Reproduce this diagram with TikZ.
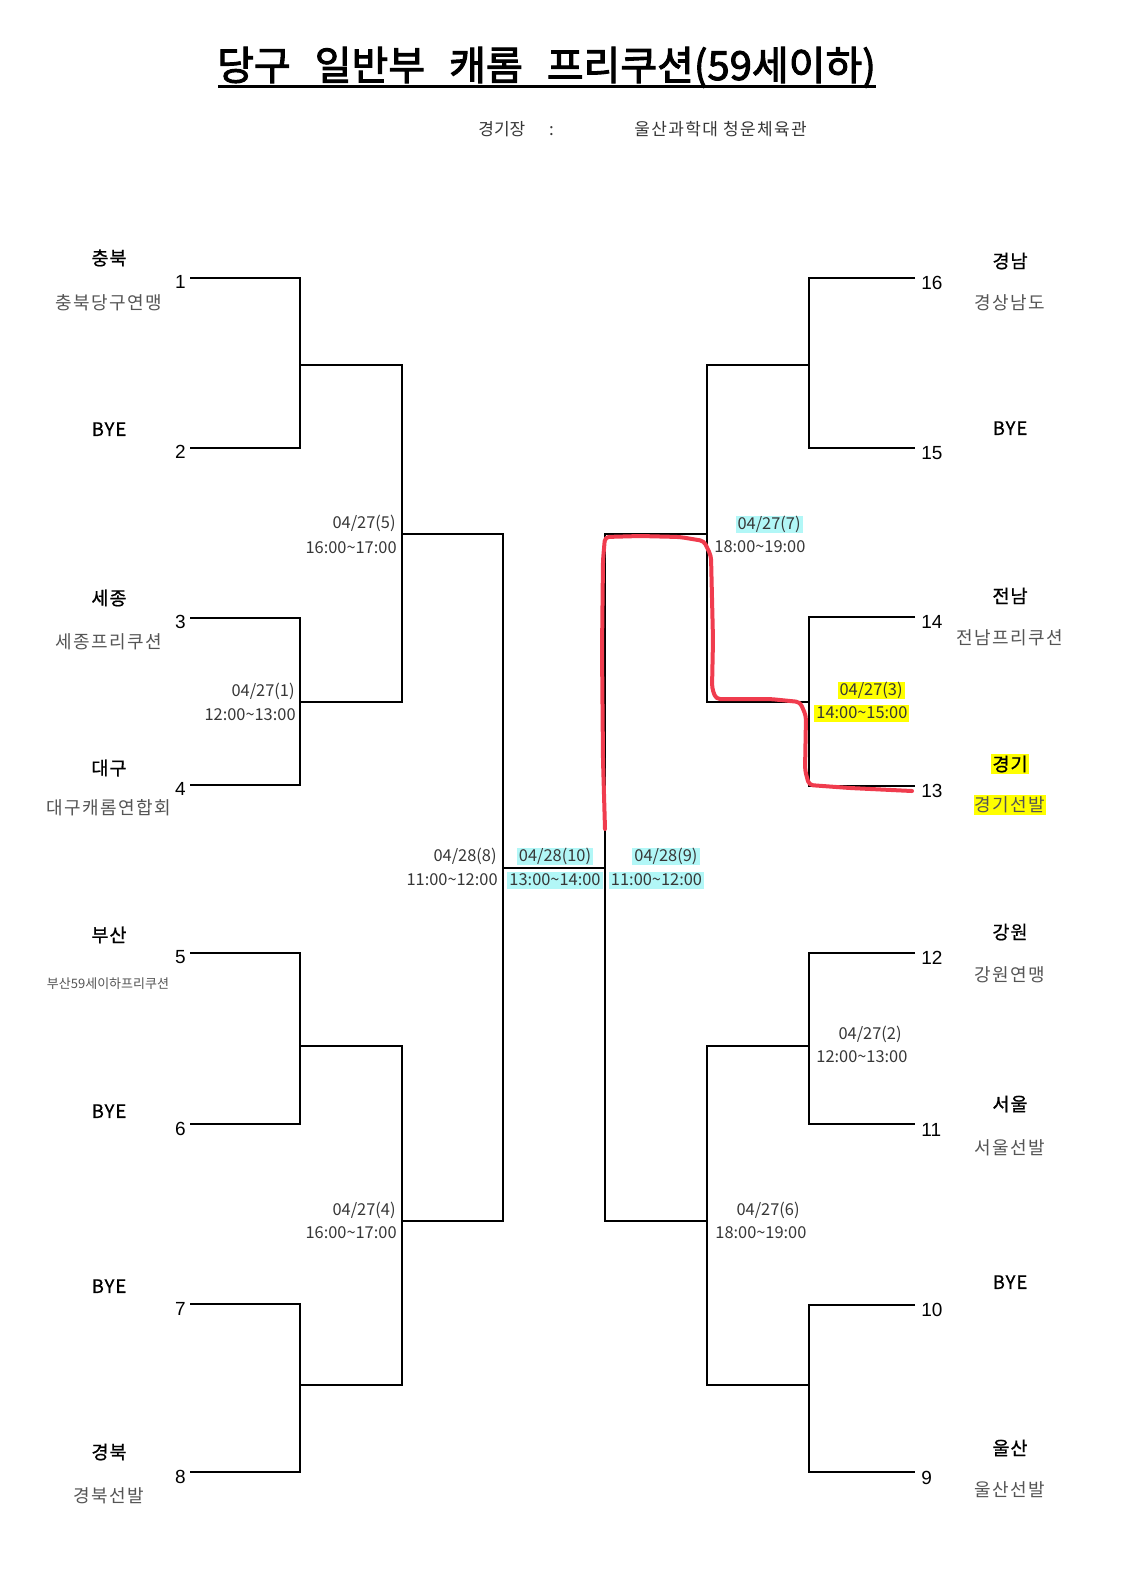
\documentclass[tikz,border=0pt]{standalone}
\usepackage{fontspec}
\newfontfamily\kr{Noto Sans CJK KR}
\newfontfamily\krs{Noto Sans CJK KR}[LetterSpace=8]
\newfontfamily\krb{Noto Sans CJK KR}[FakeBold=0.8,LetterSpace=5]
\newfontfamily\krtb{Noto Sans CJK KR}[FakeBold=2.5]
\newfontfamily\numf{Liberation Sans}
\usetikzlibrary{calc}
\definecolor{hcy}{RGB}{178,247,247}
\definecolor{hye}{RGB}{255,255,0}
\definecolor{redpen}{RGB}{240,60,78}
\definecolor{clubgray}{RGB}{85,85,85}
\definecolor{dategray}{RGB}{55,55,55}
\begin{document}
\begin{tikzpicture}[x=0.5pt,y=-0.5pt,
  br/.style={line width=1pt},
  reg/.style={font=\krb\fontsize{9.3pt}{10pt}\selectfont, inner sep=0pt, text height=7.4pt, text depth=0.45pt},
  club/.style={font=\krs\fontsize{9pt}{10pt}\selectfont, text=clubgray, inner sep=0pt, text height=7.2pt, text depth=0.45pt},
  numl/.style={font=\numf\fontsize{9.5pt}{10pt}\selectfont, inner sep=0pt, text height=6.8pt, text depth=0pt, anchor=east},
  numr/.style={numl, anchor=west},
  dt/.style={font=\kr\fontsize{8.2pt}{9pt}\selectfont, text=dategray, inner xsep=1pt, inner ysep=0pt, text height=6.9pt, text depth=1.6pt},
  hc/.style={dt, fill=hcy},
  hy/.style={dt, fill=hye},
  venue/.style={font=\krs\fontsize{8.5pt}{9pt}\selectfont, text=dategray, inner sep=0pt, anchor=west},
  redmark/.style={draw=redpen, line width=2pt, line cap=round, line join=round, rounded corners=2pt}
]
\fill[white] (0,0) rectangle (1120,1585);
\path[use as bounding box] (0,0) rectangle (1120,1585);

% title
\node[font=\krtb\fontsize{20pt}{23pt}\selectfont, inner sep=0pt, anchor=base] (title) at (546.5,80)
  {당구\hspace{0.6em}일반부\hspace{0.6em}캐롬\hspace{0.6em}프리쿠션(59세이하)};
\coordinate (ulA) at (218,86);
\coordinate (ulB) at (876,86);
\draw[line width=1.5pt] (ulA) -- (ulB);
\node[venue, font=\kr\fontsize{8.5pt}{9pt}\selectfont] (vlab) at (478,129) {경기장\hspace{1.4em}:};
\node[venue] (vname) at (634,129) {울산과학대 청운체육관};

% left entry points
\coordinate (p1) at (190,277.7);
\coordinate (p2) at (190,447.7);
\coordinate (p3) at (190,617.7);
\coordinate (p4) at (190,785);
\coordinate (p5) at (190,952.7);
\coordinate (p6) at (190,1124.3);
\coordinate (p7) at (190,1304.3);
\coordinate (p8) at (190,1472.3);
\coordinate (j12) at (300,365);
\coordinate (j34) at (300,701.7);
\coordinate (j56) at (300,1045.7);
\coordinate (j78) at (300,1385);
\coordinate (k1) at (402,534.3);
\coordinate (k2) at (402,1220.7);
\coordinate (m) at (503,868);
\coordinate (n) at (605,868);
% right entry points
\coordinate (q16) at (915,277.7);
\coordinate (q15) at (915,447.7);
\coordinate (q14) at (915,617);
\coordinate (q13) at (915,785.7);
\coordinate (q12) at (915,952.7);
\coordinate (q11) at (915,1124.3);
\coordinate (q10) at (915,1305);
\coordinate (q9) at (915,1472.3);
\coordinate (r1) at (809,365);
\coordinate (r2) at (809,701.7);
\coordinate (r3) at (809,1045.7);
\coordinate (r4) at (809,1385);
\coordinate (s1) at (707,534.3);
\coordinate (s2) at (707,1220.7);

% bracket lines
\draw[br] (p1) -| (j12) |- (p2);
\draw[br] (p3) -| (j34) |- (p4);
\draw[br] (p5) -| (j56) |- (p6);
\draw[br] (p7) -| (j78) |- (p8);
\draw[br] (j12) -| (k1) |- (j34);
\draw[br] (j56) -| (k2) |- (j78);
\draw[br] (k1) -| (m) |- (k2);
\draw[br] (m) -- (n);
\draw[br] (s1) -| (n) |- (s2);
\draw[br] (r1) -| (s1) |- (r2);
\draw[br] (r3) -| (s2) |- (r4);
\draw[br] (q16) -| (r1) |- (q15);
\draw[br] (q14) -| (r2) |- (q13);
\draw[br] (q12) -| (r3) |- (q11);
\draw[br] (q10) -| (r4) |- (q9);

% numbers left
\node[numl] (n1) at (186,281.7) {1};
\node[numl] (n2) at (186,451.7) {2};
\node[numl] (n3) at (186,621.7) {3};
\node[numl] (n4) at (186,789) {4};
\node[numl] (n5) at (186,956.7) {5};
\node[numl] (n6) at (186,1128.3) {6};
\node[numl] (n7) at (186,1308.3) {7};
\node[numl] (n8) at (186,1476.3) {8};
% numbers right
\node[numr] (n16) at (921,282.7) {16};
\node[numr] (n15) at (921,452.7) {15};
\node[numr] (n14) at (921,622) {14};
\node[numr] (n13) at (921,790.7) {13};
\node[numr] (n12) at (921,957.7) {12};
\node[numr] (n11) at (921,1129.3) {11};
\node[numr] (n10) at (921,1310) {10};
\node[numr] (n9) at (921,1477.3) {9};

% left teams
\node[reg] (t1) at (109,258) {충북};
\node[club] (c1) at (109,303) {충북당구연맹};
\node[reg] (t2) at (109,429) {BYE};
\node[reg] (t3) at (109,598) {세종};
\node[club] (c3) at (109,642) {세종프리쿠션};
\node[reg] (t4) at (109,768) {대구};
\node[club] (c4) at (109,808) {대구캐롬연합회};
\node[reg] (t5) at (109,935) {부산};
\node[club, font=\kr\fontsize{6.5pt}{7pt}\selectfont] (c5) at (108,982) {부산59세이하프리쿠션};
\node[reg] (t6) at (109,1111) {BYE};
\node[reg] (t7) at (109,1286) {BYE};
\node[reg] (t8) at (109,1452) {경북};
\node[club] (c8) at (109,1496) {경북선발};
% right teams
\node[reg] (t16) at (1010,261) {경남};
\node[club] (c16) at (1010,303) {경상남도};
\node[reg] (t15) at (1010,428) {BYE};
\node[reg] (t14) at (1010,596) {전남};
\node[club] (c14) at (1010,638) {전남프리쿠션};
\node[reg, fill=hye, inner xsep=0.5pt, inner ysep=1pt] (t13) at (1010,764) {경기};
\node[club, fill=hye, inner xsep=0.5pt, inner ysep=1pt] (c13) at (1010,805) {경기선발};
\node[reg] (t12) at (1010,932) {강원};
\node[club] (c12) at (1010,975) {강원연맹};
\node[reg] (t11) at (1010,1104) {서울};
\node[club] (c11) at (1010,1148) {서울선발};
\node[reg] (t10) at (1010,1282) {BYE};
\node[reg] (t9) at (1010,1448) {울산};
\node[club] (c9) at (1010,1490) {울산선발};

% left dates
\node[dt, anchor=east] (d5a) at (398,523.3) {04/27(5)};
\node[dt, anchor=east] (d5b) at (399,547.7) {16:00\textasciitilde17:00};
\node[dt, anchor=east] (d1a) at (297,691) {04/27(1)};
\node[dt, anchor=east] (d1b) at (298,715) {12:00\textasciitilde13:00};
\node[dt, anchor=east] (d8a) at (499,856) {04/28(8)};
\node[dt, anchor=east] (d8b) at (500,880) {11:00\textasciitilde12:00};
\node[dt, anchor=east] (d4a) at (398,1210) {04/27(4)};
\node[dt, anchor=east] (d4b) at (399,1233) {16:00\textasciitilde17:00};
% centre dates
\node[hc] (d10a) at (555,856.5) {04/28(10)};
\node[hc] (d10b) at (555,880) {13:00\textasciitilde14:00};
\node[hc] (d9a) at (666,856.5) {04/28(9)};
\node[hc] (d9b) at (656.5,880) {11:00\textasciitilde12:00};
% right dates
\node[hc, anchor=east] (d7a) at (803,524) {04/27(7)};
\node[dt, anchor=west] (d7b) at (712,547) {18:00\textasciitilde19:00};
\node[hy, anchor=east] (d3a) at (905,690) {04/27(3)};
\node[hy, anchor=west] (d3b) at (814,713) {14:00\textasciitilde15:00};
\node[dt, anchor=east] (d2a) at (904,1034) {04/27(2)};
\node[dt, anchor=west] (d2b) at (814,1057) {12:00\textasciitilde13:00};
\node[dt, anchor=east] (d6a) at (802,1210) {04/27(6)};
\node[dt, anchor=west] (d6b) at (713,1233) {18:00\textasciitilde19:00};

% hand-drawn red mark
\draw[redmark] (605,829) -- (603,760) -- (602,650) -- (603,560) -- (605,537)
  -- (640,536) -- (680,537) -- (704,541) -- (711,556) -- (713,640) -- (712,688)
  -- (716,699) -- (770,699) -- (800,702) -- (806,716) -- (805,770) -- (809,785)
  -- (850,788) -- (912,791);
\end{tikzpicture}
\end{document}
